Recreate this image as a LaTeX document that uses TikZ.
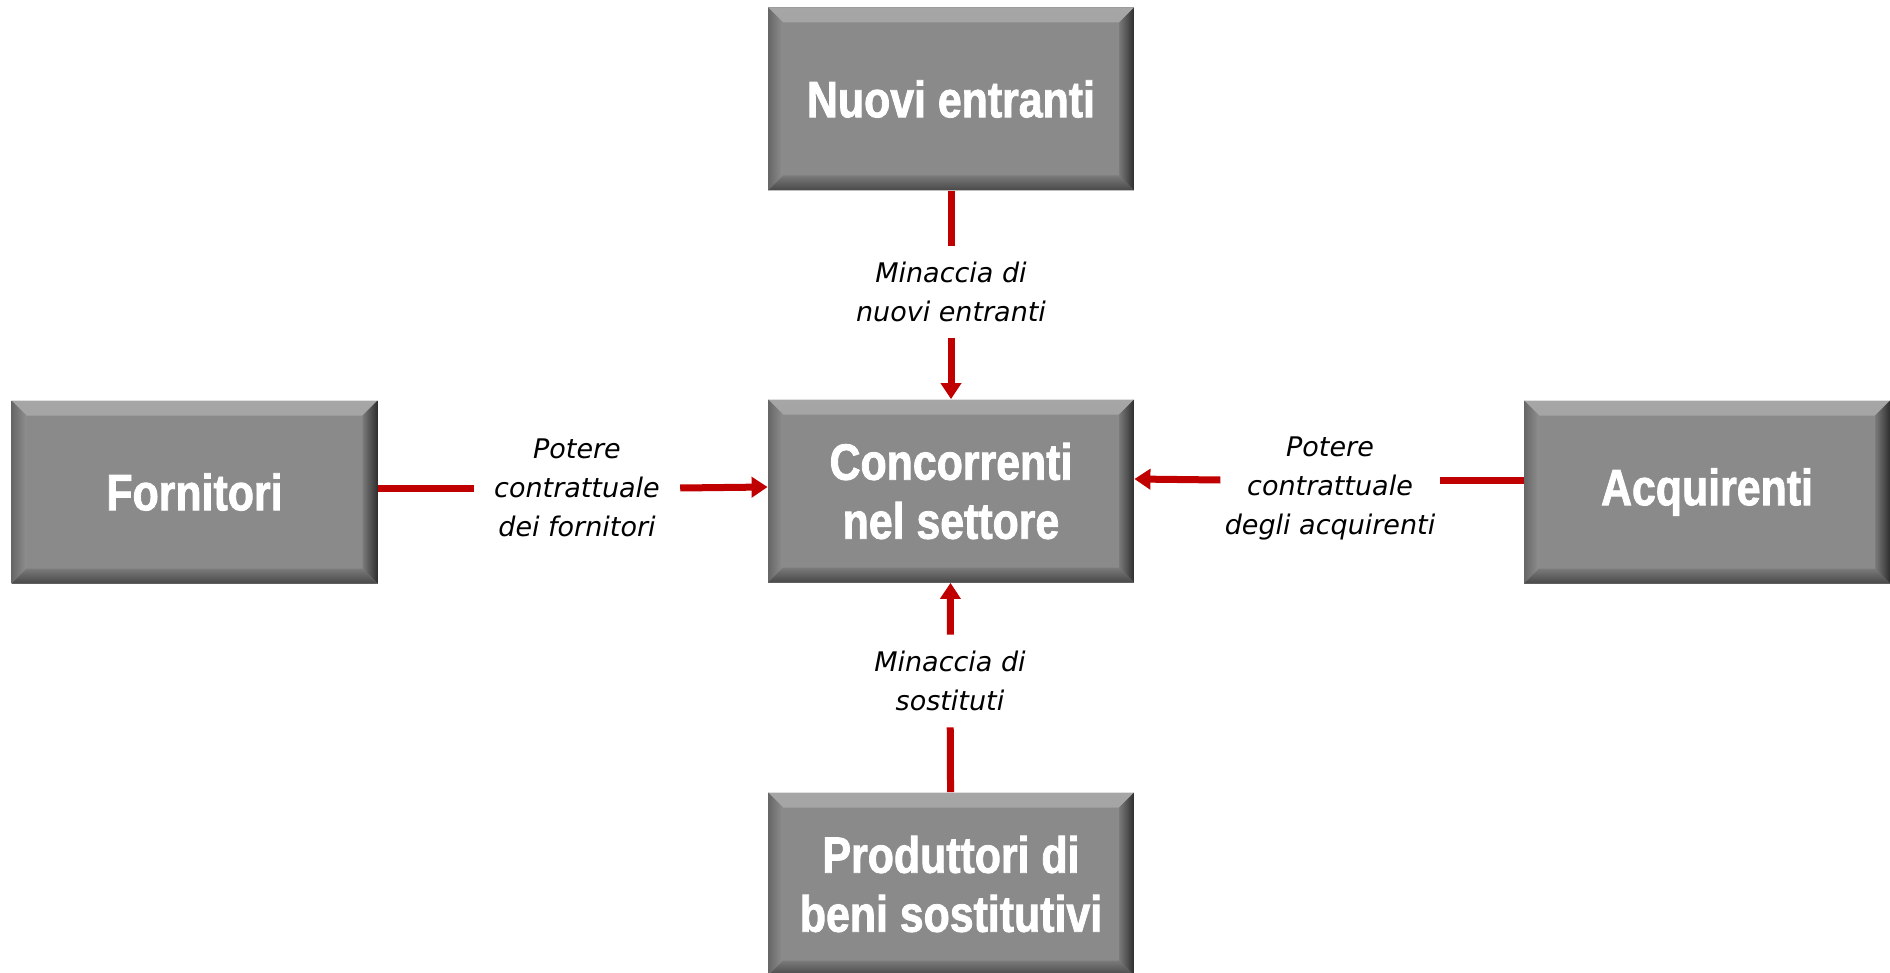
\documentclass[tikz,border=0pt]{standalone}
\usepackage{fontspec}
\usetikzlibrary{arrows.meta}
\newfontfamily\boxfont[FakeStretch=0.84,FakeBold=1.6]{Liberation Sans}
\newfontfamily\labelfont{DejaVu Sans}
\definecolor{boxgray}{HTML}{8A8A8A}
\definecolor{arrowred}{HTML}{C00000}
\def\bw{7.5pt}

\begin{document}
\begin{tikzpicture}[x=0.5pt,y=-0.5pt,
   force/.style={rectangle,fill=boxgray,minimum width=183pt,minimum height=91.5pt,
      text=white,align=center,font=\boxfont\bfseries\fontsize{25.5}{29.5}\selectfont,
      path picture={
         \shade[top color=gray!70,bottom color=gray!78]
            (path picture bounding box.north west) -- (path picture bounding box.north east)
            -- ([shift={(-\bw,-\bw)}]path picture bounding box.north east)
            -- ([shift={(\bw,-\bw)}]path picture bounding box.north west) -- cycle;
         \shade[left color=black!60,right color=black!44]
            (path picture bounding box.north west) -- (path picture bounding box.south west)
            -- ([shift={(\bw,\bw)}]path picture bounding box.south west)
            -- ([shift={(\bw,-\bw)}]path picture bounding box.north west) -- cycle;
         \shade[left color=black!52,right color=black!82]
            (path picture bounding box.north east) -- (path picture bounding box.south east)
            -- ([shift={(-\bw,\bw)}]path picture bounding box.south east)
            -- ([shift={(-\bw,-\bw)}]path picture bounding box.north east) -- cycle;
         \shade[top color=black!52,bottom color=black!72]
            (path picture bounding box.south west) -- (path picture bounding box.south east)
            -- ([shift={(-\bw,\bw)}]path picture bounding box.south east)
            -- ([shift={(\bw,\bw)}]path picture bounding box.south west) -- cycle;
      }},
   label/.style={align=center,inner xsep=10pt,inner ysep=8pt,
      font=\labelfont\itshape\fontsize{13.5}{19.5}\selectfont},
   pull/.style={draw=arrowred,line width=3.5pt},
   push/.style={pull,-{Triangle[length=8pt,width=10pt]}}]
   \useasboundingbox (0,0) rectangle (1890,973);

   \node (nuovi) at (951,99)   [force] {Nuovi entranti};
   \node (conc)  at (951,491)  [force] {Concorrenti\\nel settore};
   \node (forn)  at (194.5,492)[force] {Fornitori};
   \node (acqu)  at (1707,492) [force] {Acquirenti};
   \node (prod)  at (951,884)  [force] {Produttori di\\beni sostitutivi};

   \node (lnuovi) at (951,292)  [label] {Minaccia di\\nuovi entranti};
   \node (lforn)  at (577,488)  [label] {Potere\\contrattuale\\dei fornitori};
   \node (lacqu)  at (1330,488) [label,inner xsep=2pt] {Potere\\contrattuale\\degli acquirenti};
   \node (lprod)  at (950,681)  [label] {Minaccia di\\sostituti};

   \draw[pull] (nuovi) -- (lnuovi);
   \draw[push] (lnuovi) -- (conc);
   \draw[pull] (prod) -- (lprod);
   \draw[push] (lprod) -- (conc);
   \draw[pull] ([yshift=2pt]forn.east) -- ([yshift=2pt]forn.east -| lforn.west);
   \draw[push] ([yshift=2pt]lforn.east |- forn.east) -- ([yshift=2pt]conc.west);
   \draw[pull] ([yshift=6pt]acqu.west) -- ([yshift=6pt]acqu.west -| lacqu.east);
   \draw[push] ([yshift=6pt]lacqu.west |- acqu.west) -- ([yshift=6pt]conc.east);
\end{tikzpicture}
\end{document}
